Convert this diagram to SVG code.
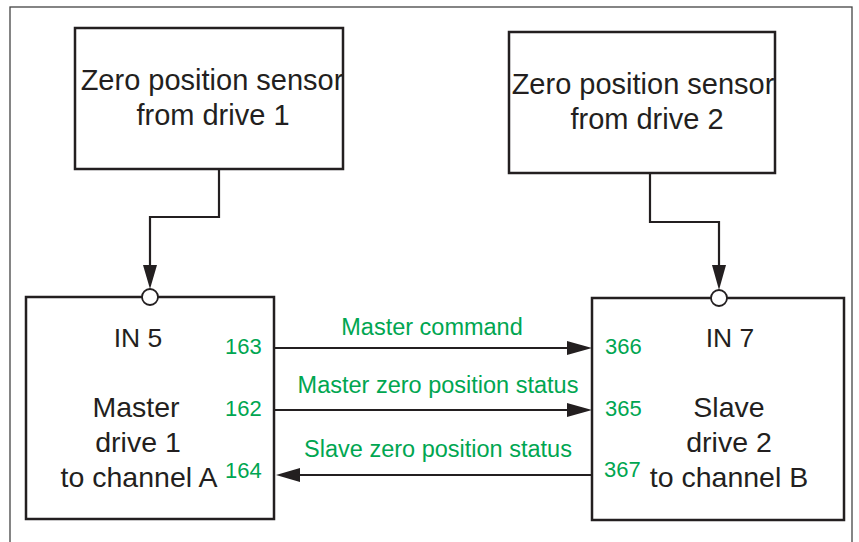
<svg xmlns="http://www.w3.org/2000/svg" width="859" height="542" viewBox="0 0 859 542">
<style>
.box{fill:#fff;stroke:#231f20;stroke-width:2.5}
.wire{fill:none;stroke:#231f20;stroke-width:2.2}
.t{font-family:"Liberation Sans",Arial,sans-serif;fill:#231f20;text-anchor:middle}
.big{font-size:28.5px}
.top{font-size:29px}
.g{font-family:"Liberation Sans",Arial,sans-serif;fill:#00a651;font-size:23.5px}
.num{font-family:"Liberation Sans",Arial,sans-serif;fill:#00a651;font-size:22px}
.head{fill:#231f20}
</style>
<rect x="0" y="0" width="859" height="542" fill="#fff"/>
<rect x="10" y="7" width="842" height="560" fill="none" stroke="#444" stroke-width="1.3"/>
<g id="sensor1">
<rect class="box" x="75" y="28" width="268" height="141"/>
<text class="t top" x="212" y="90">Zero position sensor</text>
<text class="t top" x="213" y="125">from drive 1</text>
</g>
<g id="sensor2">
<rect class="box" x="509" y="32" width="266" height="141"/>
<text class="t top" x="643" y="94">Zero position sensor</text>
<text class="t top" x="647" y="129">from drive 2</text>
</g>
<g id="master">
<rect class="box" x="26" y="297" width="248" height="222"/>
<text class="t" style="font-size:26.5px" x="138" y="347">IN 5</text>
<text class="t big" x="136" y="417">Master</text>
<text class="t big" x="138" y="452">drive 1</text>
<text class="t big" x="139" y="487">to channel A</text>
<text class="num" x="225" y="354">163</text>
<text class="num" x="225" y="416">162</text>
<text class="num" x="225" y="478">164</text>
</g>
<g id="slave">
<rect class="box" x="592" y="298" width="252" height="222"/>
<text class="t" style="font-size:26.5px" x="730" y="347">IN 7</text>
<text class="t big" x="729" y="417">Slave</text>
<text class="t big" x="729" y="452">drive 2</text>
<text class="t big" x="729" y="487">to channel B</text>
<text class="num" x="605" y="354">366</text>
<text class="num" x="605" y="416">365</text>
<text class="num" x="604" y="477">367</text>
</g>
<g id="connectors">
<polyline class="wire" points="219,169 219,217 150,217 150,268"/>
<polygon class="head" points="143,265 157,265 150,289"/>
<circle cx="150" cy="297" r="8" fill="#fff" stroke="#231f20" stroke-width="1.8"/>
<polyline class="wire" points="650,173 650,222 719,222 719,268"/>
<polygon class="head" points="712,265 726,265 719,290"/>
<circle cx="719" cy="298" r="8" fill="#fff" stroke="#231f20" stroke-width="1.8"/>
<line class="wire" x1="275" y1="348" x2="572" y2="348"/>
<polygon class="head" points="567,341 567,355 592,348"/>
<line class="wire" x1="275" y1="410" x2="572" y2="410"/>
<polygon class="head" points="567,403 567,417 592,410"/>
<line class="wire" x1="295" y1="475" x2="592" y2="475"/>
<polygon class="head" points="300,468 300,482 276,475"/>
<text class="g" x="432" y="335" text-anchor="middle">Master command</text>
<text class="g" x="438" y="393" text-anchor="middle">Master zero position status</text>
<text class="g" x="438" y="457" text-anchor="middle">Slave zero position status</text>
</g>
</svg>
